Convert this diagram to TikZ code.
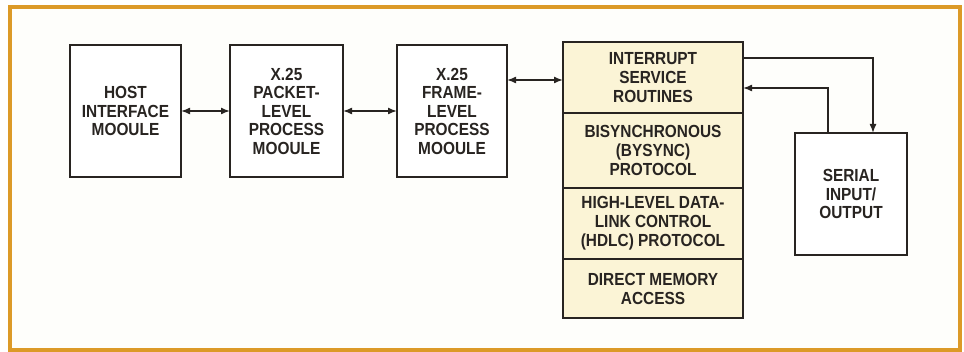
\documentclass[tikz,border=0pt]{standalone}
\usepackage{fontspec}
\setmainfont{Liberation Sans}[FakeStretch=0.88]
\usetikzlibrary{arrows.meta,positioning}
\definecolor{frameorange}{RGB}{220,154,40}
\definecolor{paper}{RGB}{254,254,251}
\definecolor{cream}{RGB}{251,244,214}
\definecolor{ink}{RGB}{40,36,33}

\begin{document}
\begin{tikzpicture}[x=1pt,y=-1pt,
  module/.style={draw=ink,line width=2.8pt,fill=white,text=ink,align=center,
    minimum height=132pt,inner sep=0pt,outer sep=0pt,
    font=\fontsize{17.5}{18.5}\selectfont\bfseries},
  layer/.style={draw=ink,line width=2pt,fill=cream,text=ink,align=center,
    minimum width=180pt,inner sep=0pt,outer sep=0pt,
    font=\fontsize{17.5}{19}\selectfont\bfseries},
  link/.style={draw=ink,line width=1.5pt,{Latex[length=9pt,width=7pt]}-{Latex[length=9pt,width=7pt]}},
  feed/.style={draw=ink,line width=1.5pt,-{Latex[length=9pt,width=7pt]}}]
\useasboundingbox (0,0) rectangle (964,352);
\draw[frameorange,line width=4pt,fill=paper] (9.5,7.5) rectangle (960,350);
% protocol modules
\node[module,minimum width=111pt] (host) at (125.5,111) {HOST\\INTERFACE\\MOOULE};
\node[module,minimum width=113pt] (packet) at (286.5,111) {X.25\\PACKET-\\LEVEL\\PROCESS\\MOOULE};
\node[module,minimum width=110pt] (frame) at (452,111) {X.25\\FRAME-\\LEVEL\\PROCESS\\MOOULE};
% driver stack
\node[layer,minimum height=71pt] (isr) at (653,77.5) {INTERRUPT\\SERVICE\\ROUTINES};
\node[layer,minimum height=75pt,below=0pt of isr] (bisync) {BISYNCHRONOUS\\(BYSYNC)\\PROTOCOL};
\node[layer,minimum height=71pt,below=0pt of bisync] (hdlc) {HIGH-LEVEL DATA-\\LINK CONTROL\\(HDLC) PROTOCOL};
\node[layer,minimum height=59pt,below=0pt of hdlc] (dma) {DIRECT MEMORY\\ACCESS};
\draw[ink,line width=2.8pt] (isr.north west) rectangle (dma.south east);
\node[module,minimum width=112pt,minimum height=122pt] (serial) at (851,194) {SERIAL\\INPUT/\\OUTPUT};
% connectors
\draw[link] (host) -- (packet);
\draw[link] (packet) -- (frame);
\draw[link] ([yshift=-2.5pt]frame.east |- isr.west) -- ([yshift=-2.5pt]isr.west);
\draw[feed] ([yshift=19.5pt]isr.east) -| ([xshift=22pt]serial.north);
\draw[feed] ([xshift=-23pt]serial.north) |- ([yshift=-10.5pt]isr.east);
\end{tikzpicture}
\end{document}
